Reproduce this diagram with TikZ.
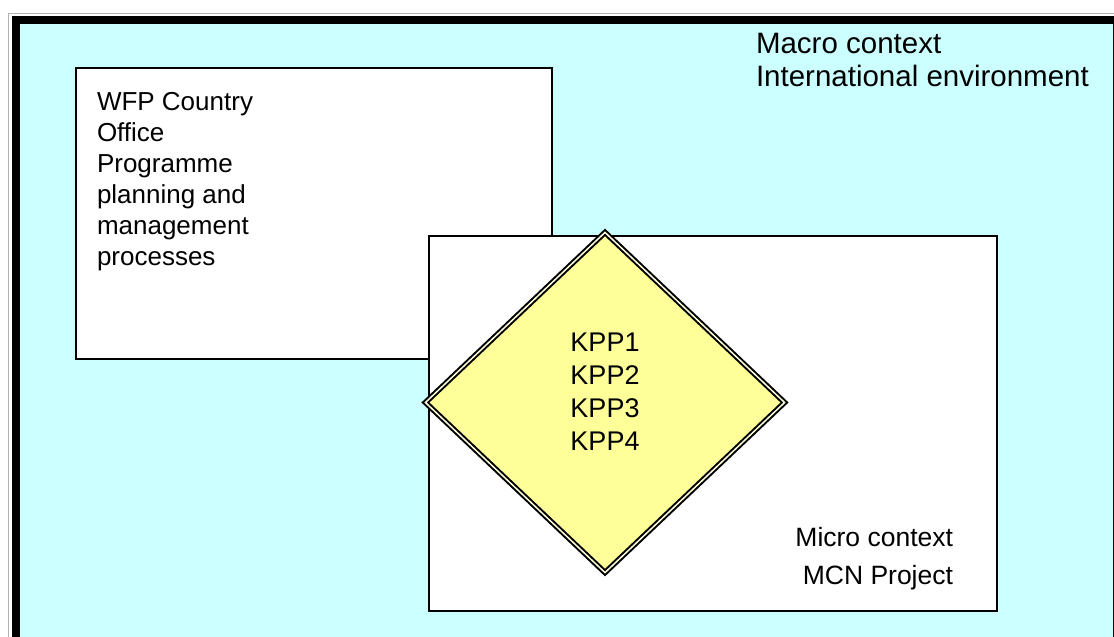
\documentclass[tikz,border=0pt]{standalone}
\usepackage{fontspec}
\setmainfont{Liberation Sans}
\usetikzlibrary{shapes.geometric}
\definecolor{bgcyan}{HTML}{CCFFFF}
\definecolor{kppyellow}{HTML}{FFFF99}
\definecolor{gapyellow}{HTML}{FFFFDD}
\tikzset{
  boxnode/.style={draw=black, fill=white, line width=1.5pt, inner sep=0pt, rectangle},
  txt/.style={inner sep=0pt, outer sep=0pt, text=black},
  kppdiamond/.style={diamond, draw=black, line width=2pt, double=gapyellow, double distance=1.5pt,
     fill=kppyellow, inner sep=0pt}
}
\begin{document}
\begin{tikzpicture}[x=1pt,y=-1pt]
\useasboundingbox (0,0) rectangle (1114,637);
\clip (0,0) rectangle (1114,637);
\fill[white] (0,0) rectangle (1114,637);
% outer frame
\draw[gray!60, line width=1.2pt] (8.75,13.75) rectangle (1150,700);
\fill[black] (12,16) rectangle (1150,700);
\fill[bgcyan] (20,24) rectangle (1112.5,700);
% boxes
\node[boxnode, anchor=north west, minimum width=476pt, minimum height=291pt] (wfp) at (75,67) {};
\node[boxnode, anchor=north west, minimum width=568pt, minimum height=375pt] (mcn) at (428,235) {};
% diamond
\node[kppdiamond, minimum width=360pt, minimum height=341pt] (kpp) at (605,402.5) {};
% texts
\node[txt, anchor=north west, align=left, font={\fontsize{26}{31}\selectfont}] (wfptext) at (97,92)
  {WFP Country\\Office\\Programme\\planning and\\management\\processes};
\node[txt, anchor=north west, align=left, font={\fontsize{29.5}{33}\selectfont}] (macro) at (756,33)
  {Macro context\\International environment};
\node[txt, anchor=north, align=center, font={\fontsize{27}{33}\selectfont}] (kpptext) at (kpp.center |- 0,333)
  {KPP1\\KPP2\\KPP3\\KPP4};
\node[txt, anchor=north east, align=right, font={\fontsize{26.5}{38}\selectfont}] (micro) at (953,527)
  {Micro context\\MCN Project};
\end{tikzpicture}
\end{document}
